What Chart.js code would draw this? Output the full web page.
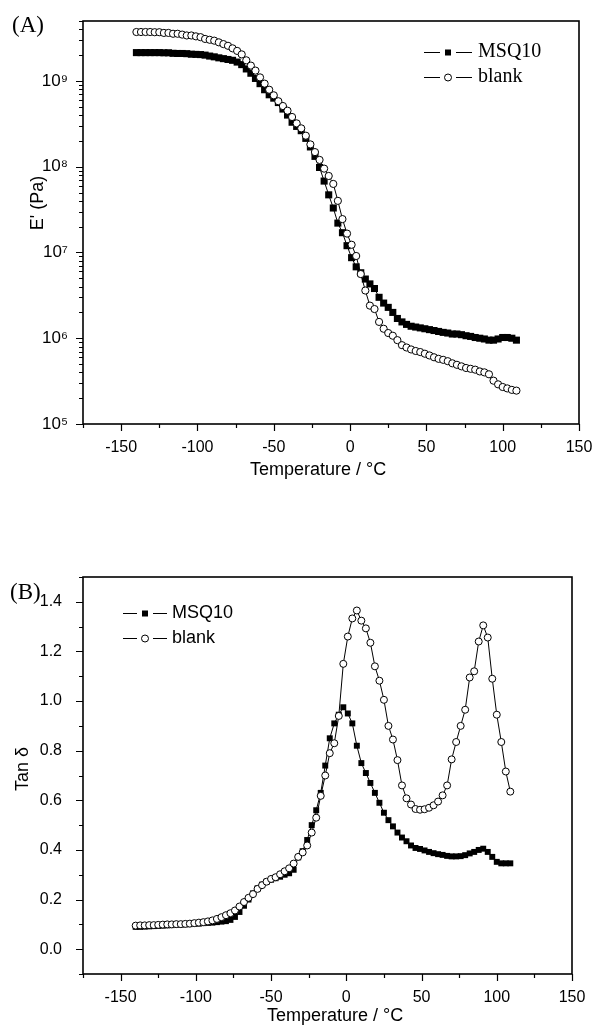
<!DOCTYPE html>
<html>
<head>
<meta charset="utf-8">
<script src="https://cdn.jsdelivr.net/npm/chart.js@4.4.0/dist/chart.umd.min.js"></script>
<style>
  body { margin: 0; background: #fff; }
  canvas { display: block; }
</style>
</head>
<body>
<canvas id="chartA" width="594" height="500"></canvas>
<canvas id="chartB" width="594" height="526"></canvas>
<script>
// temperature of every measured point (°C), same for all curves
const temps = [-140, -137, -134, -131, -128, -125, -122, -119, -116, -113,
    -110, -107, -104, -101, -98, -95, -92, -89, -86, -83,
    -80, -77, -74, -71, -68, -65, -62, -59, -56, -53,
    -50, -47, -44, -41, -38, -35, -32, -29, -26, -23,
    -20, -17, -14, -11, -8, -5, -2, 1, 4, 7,
    10, 13, 16, 19, 22, 25, 28, 31, 34, 37,
    40, 43, 46, 49, 52, 55, 58, 61, 64, 67,
    70, 73, 76, 79, 82, 85, 88, 91, 94, 97,
    100, 103, 106, 109];

const seriesNames = ['MSQ10', 'blank'];

// (A) storage modulus E' (Pa)
const msqModulus = [2.14e9, 2.14e9, 2.14e9, 2.14e9, 2.14e9, 2.14e9, 2.13e9, 2.13e9, 2.10e9, 2.09e9,
    2.09e9, 2.08e9, 2.05e9, 2.04e9, 2.03e9, 2.00e9, 1.95e9, 1.91e9, 1.86e9, 1.82e9,
    1.78e9, 1.74e9, 1.66e9, 1.55e9, 1.38e9, 1.23e9, 1.07e9, 9.3e8, 7.9e8, 6.9e8,
    6.3e8, 5.6e8, 4.7e8, 4.0e8, 3.3e8, 2.95e8, 2.63e8, 2.14e8, 1.70e8, 1.32e8,
    9.8e7, 6.8e7, 4.7e7, 3.3e7, 2.2e7, 1.70e7, 1.20e7, 8.7e6, 6.8e6, 5.8e6,
    4.9e6, 4.3e6, 3.8e6, 3.0e6, 2.57e6, 2.29e6, 2.0e6, 1.70e6, 1.55e6, 1.45e6,
    1.38e6, 1.35e6, 1.32e6, 1.29e6, 1.26e6, 1.23e6, 1.20e6, 1.17e6, 1.15e6, 1.12e6,
    1.12e6, 1.10e6, 1.07e6, 1.05e6, 1.02e6, 1.00e6, 9.8e5, 9.5e5, 9.5e5, 9.8e5,
    1.02e6, 1.02e6, 1.00e6, 9.5e5];
const blankModulus = [3.72e9, 3.72e9, 3.72e9, 3.72e9, 3.70e9, 3.70e9, 3.63e9, 3.63e9, 3.55e9, 3.55e9,
    3.47e9, 3.39e9, 3.39e9, 3.31e9, 3.24e9, 3.09e9, 3.02e9, 2.95e9, 2.82e9, 2.69e9,
    2.57e9, 2.40e9, 2.24e9, 2.04e9, 1.74e9, 1.51e9, 1.32e9, 1.10e9, 9.3e8, 7.9e8,
    6.8e8, 5.8e8, 5.1e8, 4.5e8, 3.8e8, 3.2e8, 2.8e8, 2.3e8, 1.82e8, 1.48e8,
    1.20e8, 9.5e7, 7.8e7, 6.3e7, 4.0e7, 2.45e7, 1.66e7, 1.23e7, 9.1e6, 5.6e6,
    3.6e6, 2.4e6, 2.19e6, 1.55e6, 1.29e6, 1.15e6, 1.07e6, 9.5e5, 8.3e5, 7.8e5,
    7.4e5, 7.1e5, 6.9e5, 6.6e5, 6.3e5, 6.0e5, 5.75e5, 5.6e5, 5.4e5, 5.1e5,
    4.9e5, 4.7e5, 4.5e5, 4.4e5, 4.3e5, 4.1e5, 4.0e5, 3.8e5, 3.2e5, 2.9e5,
    2.7e5, 2.6e5, 2.5e5, 2.45e5];

// (B) loss factor tan delta
const msqTan = [0.090, 0.090, 0.091, 0.092, 0.093, 0.094, 0.095, 0.096, 0.097, 0.098,
    0.099, 0.100, 0.101, 0.102, 0.103, 0.105, 0.106, 0.107, 0.109, 0.111,
    0.113, 0.118, 0.130, 0.150, 0.175, 0.200, 0.225, 0.245, 0.260, 0.272,
    0.280, 0.286, 0.292, 0.300, 0.306, 0.320, 0.370, 0.395, 0.440, 0.500,
    0.560, 0.630, 0.740, 0.850, 0.910, 0.945, 0.975, 0.950, 0.910, 0.820,
    0.750, 0.710, 0.670, 0.630, 0.590, 0.550, 0.520, 0.495, 0.470, 0.450,
    0.435, 0.418, 0.408, 0.404, 0.398, 0.392, 0.387, 0.383, 0.380, 0.376,
    0.374, 0.374, 0.375, 0.379, 0.386, 0.392, 0.400, 0.405, 0.392, 0.372,
    0.352, 0.346, 0.346, 0.346];
const blankTan = [0.095, 0.096, 0.096, 0.097, 0.097, 0.098, 0.099, 0.100, 0.100, 0.101,
    0.101, 0.102, 0.103, 0.105, 0.107, 0.109, 0.112, 0.116, 0.122, 0.129,
    0.137, 0.145, 0.156, 0.172, 0.190, 0.207, 0.222, 0.243, 0.258, 0.272,
    0.283, 0.290, 0.302, 0.314, 0.326, 0.345, 0.372, 0.390, 0.418, 0.470,
    0.530, 0.618, 0.700, 0.790, 0.830, 0.940, 1.150, 1.260, 1.333, 1.365,
    1.324, 1.293, 1.235, 1.140, 1.082, 1.005, 0.900, 0.845, 0.762, 0.660,
    0.608, 0.583, 0.565, 0.562, 0.564, 0.570, 0.580, 0.595, 0.620, 0.660,
    0.765, 0.835, 0.900, 0.965, 1.095, 1.120, 1.240, 1.305, 1.256, 1.090,
    0.945, 0.835, 0.716, 0.635];

// axis ticks
const xTicks = [-150, -100, -50, 0, 50, 100, 150];
const xMinorTicks = [-175, -125, -75, -25, 25, 75, 125];
const modTicks = [1e5, 1e6, 1e7, 1e8, 1e9];
const modTickLabels = ['10⁵', '10⁶', '10⁷', '10⁸', '10⁹'];
const tanTicks = [0.0, 0.2, 0.4, 0.6, 0.8, 1.0, 1.2, 1.4];
const tanTickLabels = ['0.0', '0.2', '0.4', '0.6', '0.8', '1.0', '1.2', '1.4'];
const tanMinorTicks = [-0.1, 0.1, 0.3, 0.5, 0.7, 0.9, 1.1, 1.3, 1.5];

let modMinorTicks = [];
modTicks.forEach(d => {
    for (let m = 2; m <= 9; m++) {
        if (d * m <= 5e9) modMinorTicks.push(d * m);
    }
});

const sansFont = 'Liberation Sans, Arial, sans-serif';
const serifFont = 'Liberation Serif, Times New Roman, serif';

Chart.defaults.color = '#000';
Chart.defaults.font.family = sansFont;

function toPoints(values) {
    return temps.map((t, i) => ({ x: t, y: values[i] }));
}

// box around the plot + outward major/minor ticks on bottom and left
const frameTicks = {
    id: 'frameTicks',
    afterDraw(chart, args, opts) {
        const { ctx, chartArea: { left, top, right, bottom }, scales: { x, y } } = chart;
        ctx.save();
        ctx.strokeStyle = '#000';
        ctx.lineWidth = 1.6;
        ctx.strokeRect(left, top, right - left, bottom - top);
        ctx.lineWidth = 1.2;
        ctx.beginPath();
        opts.xMajor.forEach(v => {
            const px = Math.round(x.getPixelForValue(v)) + 0.5;
            ctx.moveTo(px, bottom); ctx.lineTo(px, bottom + 7);
        });
        opts.xMinor.forEach(v => {
            const px = Math.round(x.getPixelForValue(v)) + 0.5;
            ctx.moveTo(px, bottom); ctx.lineTo(px, bottom + 4);
        });
        opts.yMajor.forEach(v => {
            const py = Math.round(y.getPixelForValue(v)) + 0.5;
            ctx.moveTo(left, py); ctx.lineTo(left - 7, py);
        });
        opts.yMinor.forEach(v => {
            const py = Math.round(y.getPixelForValue(v)) + 0.5;
            ctx.moveTo(left, py); ctx.lineTo(left - 4, py);
        });
        ctx.stroke();
        ctx.restore();
    }
};

// panel letter and axis titles
const figureText = {
    id: 'figureText',
    afterDraw(chart, args, opts) {
        const ctx = chart.ctx;
        ctx.save();
        ctx.fillStyle = '#000';
        ctx.textBaseline = 'middle';
        ctx.textAlign = 'left';
        ctx.font = '23px ' + serifFont;
        ctx.fillText(opts.panel, opts.panelX, opts.panelY);
        ctx.font = '18px ' + sansFont;
        ctx.textAlign = 'center';
        ctx.fillText(opts.xTitle, opts.xTitleX, opts.xTitleY);
        ctx.translate(opts.yTitleX, opts.yTitleY);
        ctx.rotate(-Math.PI / 2);
        ctx.fillText(opts.yTitle, 0, 0);
        ctx.restore();
    }
};

// Origin style legend: line - marker - line, then the name
const lineLegend = {
    id: 'lineLegend',
    afterDraw(chart, args, opts) {
        const ctx = chart.ctx;
        ctx.save();
        ctx.font = opts.font;
        ctx.textBaseline = 'middle';
        ctx.textAlign = 'left';
        chart.data.datasets.forEach((ds, i) => {
            const y = opts.y + i * opts.rowGap;
            const mid = opts.x + opts.lineLen / 2;
            ctx.strokeStyle = '#000';
            ctx.lineWidth = 1;
            ctx.beginPath();
            ctx.moveTo(opts.x, y + 0.5); ctx.lineTo(mid - 8, y + 0.5);
            ctx.moveTo(mid + 8, y + 0.5); ctx.lineTo(opts.x + opts.lineLen, y + 0.5);
            ctx.stroke();
            if (ds.pointStyle === 'rect') {
                ctx.fillStyle = '#000';
                ctx.fillRect(mid - 3, y - 2.5, 6, 6);
            } else {
                ctx.fillStyle = '#fff';
                ctx.beginPath();
                ctx.arc(mid, y + 0.5, 3.5, 0, Math.PI * 2);
                ctx.fill();
                ctx.stroke();
            }
            ctx.fillStyle = '#000';
            ctx.fillText(ds.label, opts.x + opts.lineLen + opts.textGap, y);
        });
        ctx.restore();
    }
};

function makeDatasets(msq, blank, squareRadius, circleRadius) {
    return [{
        label: seriesNames[0],
        data: toPoints(msq),
        showLine: true,
        borderColor: '#000',
        borderWidth: 1,
        pointStyle: 'rect',
        pointRadius: squareRadius,
        pointBackgroundColor: '#000',
        pointBorderColor: '#000',
        pointBorderWidth: 0,
        order: 1
    }, {
        label: seriesNames[1],
        data: toPoints(blank),
        showLine: true,
        borderColor: '#000',
        borderWidth: 1,
        pointStyle: 'circle',
        pointRadius: circleRadius,
        pointBackgroundColor: '#fff',
        pointBorderColor: '#000',
        pointBorderWidth: 1,
        order: 0
    }];
}

function xScale(axisHeight) {
    return {
        type: 'linear',
        min: -175,
        max: 150,
        afterBuildTicks: s => { s.ticks = xTicks.map(v => ({ value: v })); },
        afterFit: s => { s.height = axisHeight; s.paddingLeft = 0; s.paddingRight = 0; },
        grid: { display: false },
        border: { display: false },
        ticks: {
            padding: 6,
            autoSkip: false,
            maxRotation: 0,
            font: { size: 16 },
            callback: v => String(v)
        }
    };
}

// ---- (A) E' ----
new Chart(document.getElementById('chartA').getContext('2d'), {
    type: 'scatter',
    data: { datasets: makeDatasets(msqModulus, blankModulus, 5, 3.6) },
    options: {
        responsive: false,
        animation: false,
        events: [],
        layout: { padding: { top: 21, right: 15, left: 0, bottom: 0 } },
        plugins: {
            legend: { display: false },
            tooltip: { enabled: false },
            frameTicks: { xMajor: xTicks, xMinor: xMinorTicks, yMajor: modTicks, yMinor: modMinorTicks },
            figureText: {
                panel: '(A)', panelX: 12, panelY: 26,
                xTitle: 'Temperature / °C', xTitleX: 318, xTitleY: 470,
                yTitle: "E' (Pa)", yTitleX: 38, yTitleY: 203
            },
            lineLegend: { x: 424, y: 52, rowGap: 25, lineLen: 48, textGap: 6, font: '20px ' + serifFont }
        },
        scales: {
            x: xScale(76),
            y: {
                type: 'logarithmic',
                min: 1e5,
                max: 5e9,
                afterBuildTicks: s => { s.ticks = modTicks.map(v => ({ value: v })); },
                afterFit: s => { s.width = 83; s.paddingTop = 0; s.paddingBottom = 0; },
                grid: { display: false },
                border: { display: false },
                ticks: {
                    padding: 7,
                    font: { size: 17 },
                    callback: (v, i) => modTickLabels[i]
                }
            }
        }
    },
    plugins: [frameTicks, figureText, lineLegend]
});

// ---- (B) tan delta ----
new Chart(document.getElementById('chartB').getContext('2d'), {
    type: 'scatter',
    data: { datasets: makeDatasets(msqTan, blankTan, 4.2, 3.5) },
    options: {
        responsive: false,
        animation: false,
        events: [],
        layout: { padding: { top: 77, right: 22, left: 0, bottom: 0 } },
        plugins: {
            legend: { display: false },
            tooltip: { enabled: false },
            frameTicks: { xMajor: xTicks, xMinor: xMinorTicks, yMajor: tanTicks, yMinor: tanMinorTicks },
            figureText: {
                panel: '(B)', panelX: 10, panelY: 93,
                xTitle: 'Temperature / °C', xTitleX: 335, xTitleY: 516,
                yTitle: 'Tan δ', yTitleX: 23, yTitleY: 269
            },
            lineLegend: { x: 123, y: 113, rowGap: 25, lineLen: 44, textGap: 5, font: '18px ' + sansFont }
        },
        scales: {
            x: xScale(52),
            y: {
                type: 'linear',
                min: -0.1,
                max: 1.5,
                afterBuildTicks: s => { s.ticks = tanTicks.map(v => ({ value: v })); },
                afterFit: s => { s.width = 83; s.paddingTop = 0; s.paddingBottom = 0; },
                grid: { display: false },
                border: { display: false },
                ticks: {
                    padding: 13,
                    font: { size: 16 },
                    callback: (v, i) => tanTickLabels[i]
                }
            }
        }
    },
    plugins: [frameTicks, figureText, lineLegend]
});
</script>
</body>
</html>
